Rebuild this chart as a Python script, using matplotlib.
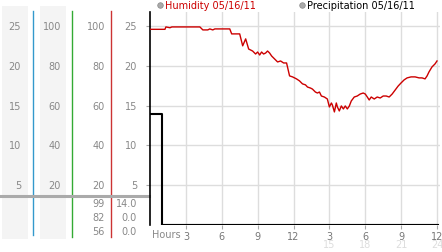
import matplotlib
matplotlib.use('Agg')
import matplotlib.pyplot as plt
import matplotlib.transforms as mtransforms
from matplotlib.patches import Rectangle

# humidity (%), hour of day
hum_hours = [0.0, 1.25, 1.33, 1.67, 1.83, 4.17, 4.42, 4.83, 5.0, 5.25, 5.42, 6.67, 6.83, 7.5,
             7.75, 8.0, 8.25, 8.58, 8.83, 9.0, 9.17, 9.33, 9.5, 9.67, 9.83, 10.0, 10.17, 10.42,
             10.67, 10.92, 11.17, 11.42, 11.67, 11.92, 12.25, 12.5, 12.75, 13.0, 13.17, 13.42,
             13.58, 13.83, 14.0, 14.17, 14.33, 14.58, 14.83, 15.0, 15.17, 15.25, 15.42, 15.58,
             15.67, 15.83, 16.0, 16.17, 16.33, 16.5, 16.67, 16.83, 17.08, 17.33, 17.58, 17.83,
             18.0, 18.17, 18.33, 18.5, 18.75, 19.0, 19.25, 19.5, 19.75, 20.0, 20.25, 20.5,
             20.75, 21.0, 21.25, 21.5, 21.83, 22.17, 22.5, 22.75, 23.0, 23.17, 23.33, 23.58,
             23.83, 24.0]
hum_values = [98.3, 98.3, 99.5, 99.1, 99.5, 99.5, 98.0, 98.0, 98.5, 98.0, 98.5, 98.5, 96.0, 96.0,
              90.0, 93.5, 88.4, 87.4, 85.9, 86.9, 85.4, 86.9, 85.9, 86.4, 87.4, 86.4, 84.9, 83.4,
              81.9, 82.4, 81.4, 81.4, 74.9, 74.4, 73.4, 72.4, 70.9, 70.4, 69.3, 68.8,
              68.3, 66.8, 66.3, 66.8, 64.8, 64.3, 63.3, 59.3, 61.3, 60.3, 56.8, 61.3,
              59.3, 57.3, 59.8, 58.3, 59.8, 58.3, 59.8, 62.3, 64.3, 64.8, 65.8, 66.3,
              65.8, 64.3, 62.8, 64.3, 63.3, 64.3, 63.8, 64.8, 64.8, 64.3, 65.8, 67.8,
              69.8, 71.4, 72.9, 73.9, 74.4, 74.4, 73.9, 73.9, 73.4, 74.9, 76.9, 79.4,
              80.9, 82.4]

# precipitation (mm)
precip_hours = [0, 1, 24]
precip_values = [14.0, 0.0, 0.0]

scale_ticks = [5, 10, 15, 20, 25]
pct_ticks = ['20', '40', '60', '80', '100']
hour_ticks = [3, 6, 9, 12, 15, 18, 21, 24]
hour_labels = ['3', '6', '9', '12', '3', '6', '9', '12']
hour_labels2 = ['15', '18', '21', '24']
hum_stats = ['99', '82', '56']
precip_stats = ['14.0', '0.0', '0.0']

W, H = 442, 253
fig = plt.figure(figsize=(W / 100, H / 100), dpi=100)

# overlay in pixel coords for the left scale panel
ov = fig.add_axes([0, 0, 1, 1], zorder=0)
ov.set_xlim(0, W)
ov.set_ylim(H, 0)
ov.axis('off')

ax = fig.add_axes([150 / W, (H - 226) / H, 290 / W, 213 / H], zorder=2)
ax.patch.set_alpha(0)
ax.set_xlim(0, 24.25)
ax.set_ylim(0, 26.75)
ax2 = ax.twinx()
ax2.set_ylim(0, 26.75 * 4)
ax2.axis('off')

for s in ['top', 'right', 'bottom']:
    ax.spines[s].set_visible(False)
ax.spines['left'].set_color('black')
ax.spines['left'].set_linewidth(1.2)

ax.set_yticks(scale_ticks)
ax.set_yticklabels([])
ax.set_xticks(hour_ticks)
ax.set_xticklabels(hour_labels, fontsize=7, color='#777777')
ax.tick_params(axis='y', length=3, color='#aaaaaa', width=0.8)
ax.tick_params(axis='x', length=3, color='#aaaaaa', width=0.8, pad=1)
ax.grid(True, color='#dddddd', linewidth=1)
ax.set_axisbelow(True)

ax.step(precip_hours, precip_values, where='post', color='black', linewidth=1.5, zorder=3)
ax.plot([1, 24], [0.02, 0.02], color='black', linewidth=2.2, zorder=3)
ax2.plot(hum_hours, hum_values, color='#cc0000', linewidth=1.0, zorder=4)

tb = mtransforms.blended_transform_factory(ax.transData, ov.transData)
for h, lab in zip(hour_ticks[4:], hour_labels2):
    ax.text(h, 245.5, lab, transform=tb, ha='center', va='center', fontsize=7, color='#dddddd')
ax.text(2 / 290, -0.02, 'Hours', transform=ax.transAxes, ha='left', va='top',
        fontsize=7, color='#888888')

# left panel
ov.add_patch(Rectangle((2, 7), 26, 233, color='#f4f4f4', lw=0))
ov.add_patch(Rectangle((40, 7), 26, 233, color='#f4f4f4', lw=0))
ov.plot([33, 33], [12, 236], color='#3399cc', lw=1)
ov.plot([72, 72], [12, 238], color='#33aa33', lw=1)
ov.plot([111, 111], [12, 238], color='#cc3333', lw=1)
ov.plot([0, 149], [197, 197], color='#aaaaaa', lw=2.2)

ty = mtransforms.blended_transform_factory(ov.transData, ax.transData)
for v, p in zip(scale_ticks, pct_ticks):
    ov.text(21, v, str(v), transform=ty, ha='right', va='center', fontsize=7, color='#888888')
    ov.text(61, v, p, transform=ty, ha='right', va='center', fontsize=7, color='#888888')
    ov.text(105, v, p, transform=ty, ha='right', va='center', fontsize=7, color='#888888')
    ov.text(137, v, str(v), transform=ty, ha='right', va='center', fontsize=7, color='#888888')
for yy, a, b in zip([204, 218, 232], hum_stats, precip_stats):
    ov.text(105, yy, a, ha='right', va='center', fontsize=7, color='#888888')
    ov.text(137, yy, b, ha='right', va='center', fontsize=7, color='#888888')

# legend
ov.plot([160], [6], 'o', ms=4, color='#aaaaaa', mec='#888888', mew=0.5)
ov.text(165, 6, 'Humidity 05/16/11', ha='left', va='center', fontsize=7, color='#cc0000')
ov.plot([302], [6], 'o', ms=4, color='#aaaaaa', mec='#888888', mew=0.5)
ov.text(307, 6, 'Precipitation 05/16/11', ha='left', va='center', fontsize=7, color='black')

fig.savefig('out.png', dpi=100)
